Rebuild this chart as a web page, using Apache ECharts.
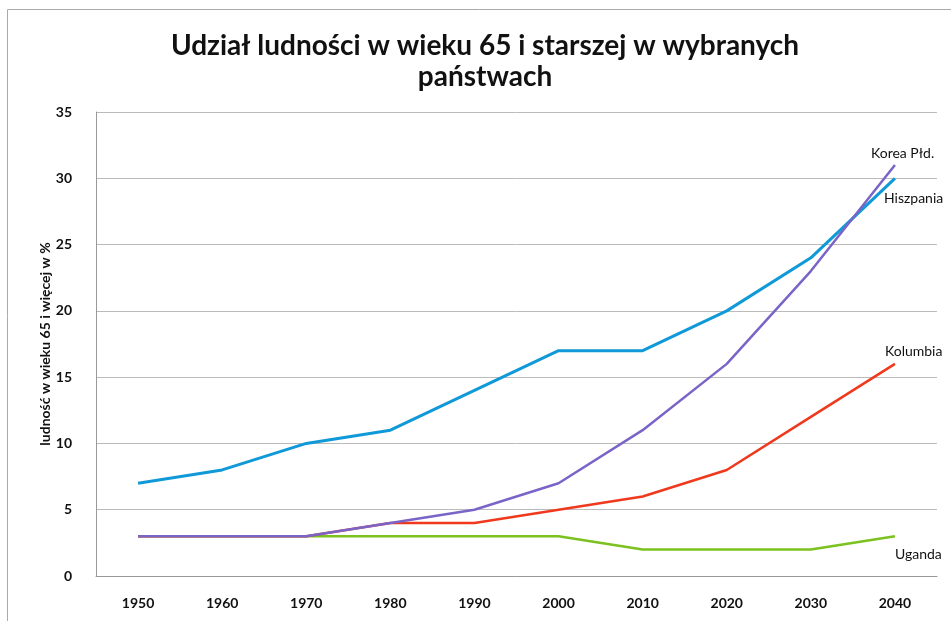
<!DOCTYPE html>
<html>
<head>
<meta charset="utf-8">
<script src="https://cdn.jsdelivr.net/npm/echarts@6/dist/echarts.min.js"></script>
<style>
html, body { margin: 0; padding: 0; background: #fff; }
#chart { width: 951px; height: 621px; }
</style>
</head>
<body>
<div id="chart"></div>
<script>
var years = ['1950', '1960', '1970', '1980', '1990', '2000', '2010', '2020', '2030', '2040'];
var uganda = [3, 3, 3, 3, 3, 3, 2, 2, 2, 3];
var kolumbia = [3, 3, 3, 4, 4, 5, 6, 8, 12, 16];
var hiszpania = [7, 8, 10, 11, 14, 17, 17, 20, 24, 30];
var korea = [3, 3, 3, 4, 5, 7, 11, 16, 23, 31];

var font = 'Lato';
var dom = document.getElementById('chart');
var myChart = echarts.init(dom);

function line(name, data, color, width, offset) {
    return {
        name: name,
        type: 'line',
        data: data,
        symbol: 'none',
        lineStyle: { color: color, width: width },
        itemStyle: { color: color },
        endLabel: {
            show: true,
            formatter: name,
            distance: 0,
            offset: offset,
            color: '#111',
            fontFamily: font,
            fontSize: 14
        }
    };
}

option = {
    backgroundColor: '#fff',
    animation: false,
    title: {
        text: 'Udział ludności w wieku 65 i starszej w wybranych\npaństwach',
        left: 480,
        textAlign: 'center',
        top: 25,
        textStyle: {
            fontFamily: font,
            fontWeight: 'bold',
            fontSize: 28,
            lineHeight: 31,
            color: '#111'
        }
    },
    graphic: [{
        type: 'rect',
        shape: { x: 7.5, y: 9.5, width: 960, height: 640 },
        style: { fill: 'none', stroke: '#aaa', lineWidth: 1 }
    }],
    grid: {
        left: 96,
        right: 14,
        top: 112,
        bottom: 45
    },
    xAxis: {
        type: 'category',
        data: years,
        axisTick: { show: false },
        axisLine: { lineStyle: { color: '#999' } },
        axisLabel: {
            margin: 20,
            color: '#111',
            fontFamily: font,
            fontWeight: 'bold',
            fontSize: 14
        }
    },
    yAxis: {
        type: 'value',
        min: 0,
        max: 35,
        interval: 5,
        name: 'ludność w wieku 65 i więcej w %',
        nameLocation: 'middle',
        nameGap: 44,
        nameMoveOverlap: false,
        nameTextStyle: {
            color: '#111',
            fontFamily: font,
            fontWeight: 'bold',
            fontSize: 14
        },
        axisLine: { show: true, lineStyle: { color: '#999' } },
        axisTick: { show: false },
        splitLine: { lineStyle: { color: '#bbb' } },
        axisLabel: {
            margin: 24,
            color: '#111',
            fontFamily: font,
            fontWeight: 'bold',
            fontSize: 14
        }
    },
    series: [
        line('Uganda', uganda, '#7cc21e', 2.5, [0, 18]),
        line('Kolumbia', kolumbia, '#f0381c', 2.5, [-10, -12]),
        line('Hiszpania', hiszpania, '#0f99d8', 3, [-11, 20]),
        line('Korea Płd.', korea, '#7b64c8', 2.5, [-24, -12])
    ]
};

if (option && typeof option === "object") {
    myChart.setOption(option, true);
}
</script>
</body>
</html>
